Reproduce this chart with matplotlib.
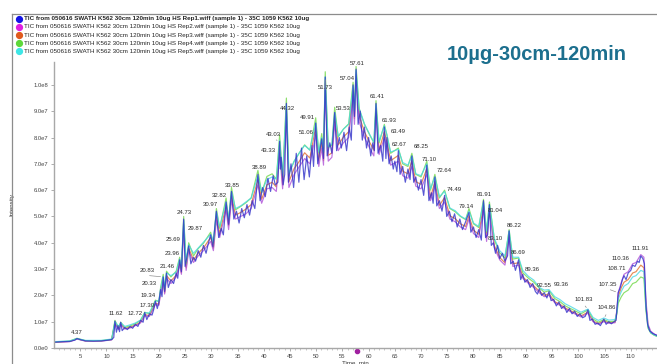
import numpy as np
import matplotlib
matplotlib.use('Agg')
import matplotlib.pyplot as plt
import matplotlib.transforms as mtransforms
from matplotlib.lines import Line2D

plt.rcParams['font.family'] = ['Liberation Sans', 'DejaVu Sans']

# Rep1 trace: retention time (min) and intensity (x 1e7)
rt_rep1 = [
    0.0, 1.5, 3.0, 4.0, 4.37, 5.0, 6.0, 7.5, 9.0, 10.0,
    11.0, 11.4, 11.62, 11.9, 12.2, 12.5, 12.72, 13.0, 13.5, 14.0,
    14.5, 15.0, 15.5, 16.0, 16.5, 17.0, 17.3, 17.7, 18.2, 18.7,
    19.0, 19.34, 19.7, 20.0, 20.33, 20.6, 20.83, 21.1, 21.46, 21.8,
    22.3, 22.8, 23.3, 23.6, 23.96, 24.3, 24.73, 25.0, 25.3, 25.69,
    26.1, 26.6, 27.0, 27.5, 28.0, 28.5, 29.0, 29.4, 29.87, 30.3,
    30.97, 31.4, 31.9, 32.3, 32.82, 33.3, 33.85, 34.3, 34.8, 35.3,
    35.8, 36.3, 36.8, 37.3, 37.8, 38.3, 38.89, 39.3, 39.8, 40.3,
    40.8, 41.3, 41.8, 42.2, 42.7, 43.03, 43.18, 43.33, 43.7, 44.0,
    44.32, 44.7, 45.2, 45.7, 46.2, 46.7, 47.2, 47.7, 48.2, 48.7,
    49.2, 49.5, 49.91, 50.3, 50.7, 51.06, 51.4, 51.73, 52.1, 52.6,
    53.0, 53.53, 53.9, 54.4, 54.8, 55.3, 55.8, 56.3, 56.7, 57.04,
    57.3, 57.61, 58.0, 58.4, 58.8, 59.2, 59.6, 60.0, 60.4, 60.8,
    61.1, 61.41, 61.8, 62.3, 62.7, 63.0, 63.3, 63.49, 63.9, 64.3,
    64.7, 65.0, 65.4, 65.67, 66.0, 66.5, 67.0, 67.5, 67.9, 68.25,
    68.6, 69.0, 69.5, 70.0, 70.5, 71.1, 71.5, 72.0, 72.3, 72.64,
    73.0, 73.5, 74.0, 74.49, 74.9, 75.4, 75.9, 76.4, 76.9, 77.4,
    77.9, 78.5, 79.14, 79.5, 80.0, 80.5, 81.0, 81.5, 81.91, 82.3,
    82.7, 83.04, 83.4, 83.8, 84.2, 84.6, 85.0, 85.5, 86.0, 86.5,
    86.8, 87.1, 87.6, 88.0, 88.6, 89.0, 89.4, 89.8, 90.3, 90.8,
    91.3, 91.8, 92.2, 92.55, 93.0, 93.5, 94.0, 94.4, 94.8, 95.3,
    95.8, 96.3, 96.8, 97.3, 97.8, 98.3, 98.8, 99.3, 99.8, 100.3,
    100.8, 101.3, 101.83, 102.2, 102.7, 103.2, 103.7, 104.2, 104.86, 105.3,
    105.8, 106.3, 106.8, 107.2, 107.6, 108.0, 108.4, 108.71, 109.1, 109.5,
    110.0, 110.36, 110.8, 111.3, 111.6, 111.91, 112.3, 112.6, 112.9, 113.2,
    113.6, 114.2, 115.0,
]
int_rep1 = [
    0.22, 0.24, 0.25, 0.30, 0.36, 0.32, 0.27, 0.26, 0.27, 0.29,
    0.32, 0.40, 1.02, 0.60, 0.85, 0.62, 0.98, 0.66, 0.78, 0.70,
    0.82, 0.75, 0.90, 0.82, 1.05, 0.98, 1.35, 1.08, 1.30, 1.25,
    1.45, 1.78, 1.50, 1.75, 2.22, 1.95, 2.70, 2.15, 2.85, 2.30,
    2.60, 2.45, 2.85, 2.65, 3.35, 2.90, 4.90, 3.10, 3.40, 3.88,
    3.20, 3.45, 3.30, 3.70, 3.45, 3.90, 3.60, 3.95, 4.30, 3.85,
    5.20, 4.20, 4.55, 4.30, 5.55, 4.70, 5.95, 4.90, 5.20, 4.75,
    5.30, 4.95, 5.45, 5.05, 5.60, 5.30, 6.60, 5.60, 6.10, 5.75,
    6.45, 5.95, 6.55, 6.20, 6.30, 7.85, 6.80, 7.25, 6.20, 6.60,
    9.30, 6.30, 7.00, 6.10, 7.40, 6.30, 7.60, 6.40, 7.30, 6.50,
    7.70, 6.90, 8.55, 7.00, 7.50, 7.95, 7.20, 10.3, 7.30, 7.80,
    7.40, 8.95, 7.50, 8.00, 7.60, 8.20, 7.50, 8.40, 7.90, 10.0,
    8.80, 10.6, 8.50, 9.00, 7.90, 8.40, 7.60, 8.00, 7.30, 7.80,
    7.50, 9.30, 7.40, 7.70, 7.10, 8.40, 7.20, 8.00, 7.00, 7.30,
    6.80, 7.10, 6.70, 7.50, 6.60, 6.90, 6.30, 6.80, 6.40, 7.30,
    6.30, 6.50, 6.00, 6.40, 5.80, 6.95, 5.60, 5.90, 5.50, 6.50,
    5.40, 5.60, 5.20, 5.80, 5.00, 5.20, 4.80, 5.10, 4.60, 4.90,
    4.50, 4.80, 5.15, 4.40, 4.60, 4.20, 4.50, 4.10, 5.60, 4.20,
    4.30, 5.45, 3.90, 4.00, 3.60, 3.90, 3.40, 3.60, 3.30, 3.50,
    4.45, 3.20, 3.30, 2.95, 3.35, 2.60, 2.80, 2.50, 2.60, 2.30,
    2.45, 2.15, 2.05, 2.25, 2.00, 2.10, 1.90, 2.15, 1.80, 1.85,
    1.60, 1.75, 1.50, 1.60, 1.35, 1.50, 1.30, 1.40, 1.20, 1.30,
    1.15, 1.20, 1.45, 1.05, 1.10, 0.90, 0.95, 0.85, 1.10, 0.90,
    1.00, 0.92, 1.00, 1.05, 2.10, 2.30, 2.60, 2.75, 2.60, 2.85,
    2.95, 3.15, 3.10, 3.30, 3.25, 3.50, 3.40, 3.20, 1.60, 0.90,
    0.65, 0.55, 0.48,
]

# Rep2..Rep5 traces, read on a coarser shared time grid (x 1e7)
rt_reps = [
    0, 3, 4.37, 6, 9, 11, 11.62, 12.3, 12.72, 13.5,
    14.5, 15.5, 16.5, 17.3, 18.2, 19.34, 20.0, 20.33, 20.83, 21.1,
    21.46, 22.3, 23.3, 23.96, 24.3, 24.73, 25.2, 25.69, 26.6, 27.5,
    28.5, 29.87, 30.4, 30.97, 31.6, 32.82, 33.3, 33.85, 34.6, 35.6,
    36.6, 37.6, 38.89, 39.6, 40.6, 41.6, 42.4, 43.03, 43.6, 44.32,
    44.8, 45.8, 46.8, 47.8, 48.8, 49.91, 50.5, 51.06, 51.4, 51.73,
    52.3, 53.0, 53.53, 54.2, 55.2, 56.2, 57.04, 57.3, 57.61, 58.2,
    59.2, 60.2, 61.0, 61.41, 62.0, 63.0, 63.49, 64.2, 65.67, 66.5,
    67.5, 68.25, 69.0, 70.0, 71.1, 71.8, 72.64, 73.5, 74.49, 75.5,
    76.5, 77.5, 78.5, 79.14, 80.0, 81.0, 81.91, 82.5, 83.04, 84.0,
    85.0, 86.0, 86.8, 87.5, 88.6, 89.4, 90.5, 91.5, 92.55, 93.5,
    94.4, 95.5, 96.5, 97.5, 98.5, 99.5, 100.5, 101.83, 102.8, 103.8,
    104.86, 105.8, 107.0, 107.35, 107.6, 108.2, 108.71, 109.5, 110.36, 111.0,
    111.91, 112.5, 112.9, 113.3, 113.8, 114.5, 115.0,
]
int_rep2 = [
    0.21, 0.24, 0.34, 0.26, 0.26, 0.31, 0.92, 0.70, 0.90, 0.72,
    0.76, 0.85, 0.95, 1.22, 1.20, 1.65, 1.62, 2.05, 2.55, 2.05,
    2.65, 2.45, 2.70, 3.15, 2.80, 4.50, 2.95, 3.70, 3.25, 3.50,
    3.70, 4.05, 3.70, 4.85, 4.20, 5.25, 4.50, 5.60, 4.90, 5.00,
    5.10, 5.30, 6.20, 5.50, 6.05, 6.10, 5.95, 7.40, 6.05, 8.80,
    6.10, 6.60, 6.90, 7.20, 7.00, 8.10, 6.90, 7.60, 6.95, 9.80,
    7.10, 7.25, 8.50, 7.50, 7.80, 8.00, 9.60, 8.50, 10.2, 8.60,
    8.00, 7.60, 7.30, 8.90, 7.35, 8.00, 7.60, 6.95, 7.10, 6.55,
    6.45, 6.90, 6.15, 6.05, 6.60, 5.60, 6.15, 5.30, 5.55, 4.90,
    4.80, 4.60, 4.50, 4.90, 4.35, 4.20, 5.25, 4.05, 5.20, 3.80,
    3.35, 3.15, 4.20, 3.10, 3.15, 2.65, 2.45, 2.30, 2.10, 1.95,
    2.00, 1.72, 1.62, 1.48, 1.38, 1.28, 1.18, 1.32, 1.00, 0.90,
    1.00, 0.94, 0.96, 1.45, 2.10, 2.50, 2.80, 2.90, 3.20, 3.25,
    3.55, 3.45, 1.80, 0.90, 0.64, 0.53, 0.48,
]
int_rep3 = [
    0.22, 0.25, 0.35, 0.27, 0.27, 0.32, 0.97, 0.73, 0.93, 0.74,
    0.79, 0.87, 0.98, 1.27, 1.23, 1.70, 1.66, 2.15, 2.62, 2.10,
    2.75, 2.55, 2.76, 3.25, 2.86, 4.70, 3.05, 3.80, 3.35, 3.60,
    3.80, 4.20, 3.80, 5.00, 4.35, 5.42, 4.65, 5.80, 5.05, 5.15,
    5.28, 5.45, 6.40, 5.65, 6.20, 6.30, 6.12, 7.70, 6.20, 9.05,
    6.32, 6.82, 7.10, 7.42, 7.22, 8.40, 7.12, 7.82, 7.12, 10.05,
    7.32, 7.42, 8.80, 7.72, 8.02, 8.22, 9.80, 8.72, 10.4, 8.82,
    8.22, 7.82, 7.52, 9.10, 7.52, 8.22, 7.82, 7.12, 7.32, 6.72,
    6.62, 7.12, 6.32, 6.22, 6.82, 5.72, 6.32, 5.42, 5.72, 5.02,
    4.92, 4.72, 4.62, 5.02, 4.48, 4.32, 5.42, 4.18, 5.32, 3.88,
    3.44, 3.24, 4.32, 3.20, 3.24, 2.70, 2.50, 2.36, 2.16, 2.00,
    2.06, 1.76, 1.66, 1.52, 1.42, 1.32, 1.22, 1.36, 1.02, 0.93,
    1.03, 0.96, 0.98, 1.40, 1.95, 2.30, 2.50, 2.60, 2.85, 2.90,
    3.15, 3.05, 1.60, 0.82, 0.60, 0.50, 0.46,
]
int_rep4 = [
    0.23, 0.26, 0.37, 0.28, 0.28, 0.33, 1.05, 0.78, 0.98, 0.78,
    0.84, 0.92, 1.05, 1.36, 1.30, 1.82, 1.76, 2.30, 2.80, 2.22,
    2.92, 2.70, 2.92, 3.45, 3.00, 5.00, 3.20, 4.00, 3.50, 3.78,
    3.98, 4.40, 3.98, 5.30, 4.55, 5.70, 4.85, 6.10, 5.25, 5.38,
    5.52, 5.70, 6.75, 5.90, 6.52, 6.62, 6.42, 8.10, 6.50, 9.50,
    6.62, 7.10, 7.42, 7.72, 7.52, 8.75, 7.42, 8.15, 7.42, 10.5,
    7.62, 7.72, 9.15, 8.02, 8.32, 8.52, 10.1, 9.05, 10.7, 9.10,
    8.50, 8.10, 7.80, 9.40, 7.80, 8.50, 8.10, 7.40, 7.60, 7.00,
    6.90, 7.40, 6.60, 6.50, 7.10, 6.00, 6.60, 5.70, 6.00, 5.30,
    5.18, 5.00, 4.88, 5.30, 4.72, 4.58, 5.65, 4.40, 5.55, 4.10,
    3.62, 3.42, 4.50, 3.38, 3.42, 2.86, 2.65, 2.50, 2.28, 2.12,
    2.18, 1.88, 1.76, 1.60, 1.50, 1.40, 1.30, 1.45, 1.10, 0.98,
    1.08, 1.00, 1.02, 1.30, 1.70, 1.95, 2.10, 2.20, 2.45, 2.50,
    2.70, 2.65, 1.40, 0.75, 0.57, 0.48, 0.44,
]
int_rep5 = [
    0.24, 0.27, 0.36, 0.29, 0.29, 0.34, 1.00, 0.82, 0.96, 0.82,
    0.88, 0.95, 1.06, 1.33, 1.34, 1.78, 1.80, 2.24, 2.72, 2.30,
    2.85, 2.75, 2.88, 3.38, 3.08, 4.85, 3.30, 3.92, 3.60, 3.80,
    4.02, 4.32, 4.05, 5.18, 4.60, 5.55, 4.90, 5.95, 5.30, 5.40,
    5.55, 5.70, 6.55, 5.92, 6.40, 6.50, 6.42, 7.90, 6.55, 9.25,
    6.65, 7.10, 7.42, 7.70, 7.52, 8.55, 7.45, 8.00, 7.45, 10.3,
    7.65, 7.75, 8.95, 8.05, 8.32, 8.50, 9.95, 9.00, 10.55, 9.10,
    8.52, 8.12, 7.82, 9.25, 7.85, 8.45, 8.10, 7.45, 7.55, 7.05,
    6.95, 7.30, 6.62, 6.55, 7.00, 6.05, 6.50, 5.75, 5.95, 5.32,
    5.22, 5.02, 4.90, 5.20, 4.75, 4.62, 5.55, 4.45, 5.45, 4.15,
    3.70, 3.50, 4.45, 3.45, 3.45, 2.95, 2.72, 2.58, 2.30, 2.20,
    2.22, 1.95, 1.84, 1.68, 1.58, 1.47, 1.36, 1.48, 1.16, 1.05,
    1.14, 1.06, 1.08, 1.35, 1.85, 2.15, 2.35, 2.45, 2.70, 2.75,
    2.95, 2.90, 1.50, 0.78, 0.58, 0.49, 0.45,
]

legend_labels = [
    'TIC from 050616 SWATH K562 30cm 120min 10ug HS Rep1.wiff (sample 1) - 35C 1059 K562 10ug',
    'TIC from 050616 SWATH K562 30cm 120min 10ug HS Rep2.wiff (sample 1) - 35C 1059 K562 10ug',
    'TIC from 050616 SWATH K562 30cm 120min 10ug HS Rep3.wiff (sample 1) - 35C 1059 K562 10ug',
    'TIC from 050616 SWATH K562 30cm 120min 10ug HS Rep4.wiff (sample 1) - 35C 1059 K562 10ug',
    'TIC from 050616 SWATH K562 30cm 120min 10ug HS Rep5.wiff (sample 1) - 35C 1059 K562 10ug',
]
line_colors = ['#3030c8', '#b050d8', '#e0702c', '#70d848', '#48d8e4']
dot_colors = ['#1414e6', '#e020e0', '#e05a1e', '#5ed83a', '#3ee6e6']

# peak labels (text) and where they sit, in (min, x 1e7)
peak_labels = ['4.37', '11.62', '12.72', '17.30', '19.34', '20.33', '20.83', '21.46',
               '23.96', '25.69', '24.73', '29.87', '30.97', '32.82', '33.85', '38.89',
               '43.33', '43.03', '44.32', '49.91', '51.06', '51.73', '53.53', '57.04',
               '57.61', '61.41', '61.93', '63.49', '62.67', '68.25', '71.10', '72.64',
               '74.49', '79.14', '81.91', '81.04', '83.10', '86.22', '86.69', '89.36',
               '92.55', '93.36', '101.83', '104.86', '107.35', '108.71', '110.36', '111.91']
label_rt = [4.3, 11.8, 15.5, 17.7, 18.0, 18.2, 17.7, 21.5,
            22.5, 22.8, 24.8, 26.9, 29.8, 31.5, 34.0, 39.1,
            40.9, 41.9, 44.5, 48.3, 48.2, 51.7, 55.1, 55.9,
            57.8, 61.6, 64.0, 65.6, 65.9, 70.0, 71.6, 74.4,
            76.3, 78.6, 82.1, 84.2, 84.2, 87.7, 88.6, 91.2,
            93.4, 96.8, 101.0, 105.5, 105.6, 107.3, 108.0, 111.8]
label_int = [0.58, 1.30, 1.30, 1.60, 2.00, 2.45, 2.94, 3.10,
             3.58, 4.12, 5.16, 4.53, 5.46, 5.80, 6.18, 6.86,
             7.52, 8.13, 9.11, 8.77, 8.18, 9.90, 9.11, 10.26,
             10.83, 9.55, 8.64, 8.24, 7.74, 7.65, 7.16, 6.73,
             6.02, 5.38, 5.84, 5.23, 4.15, 4.66, 3.64, 2.97,
             2.37, 2.43, 1.86, 1.54, 2.43, 3.04, 3.41, 3.79]
# labels joined to their peak by a thin leader line: (label, peak time)
leaders = [('20.83', 20.83), ('43.03', 43.03), ('101.83', 101.83),
           ('104.86', 104.86), ('107.35', 107.6), ('51.73', 51.73)]

marker_rt = 57.8

scale = 1e7


def sci_fmt(v, pos):
    if v == 0:
        return '0.0e0'
    e = int(np.floor(np.log10(abs(v))))
    return f'{v / 10 ** e:.1f}e{e}'


W, H = 657, 364
fig = plt.figure(figsize=(W / 100, H / 100), dpi=100)
ax = fig.add_axes([54 / W, (H - 348) / H, (W - 54) / W, (348 - 62) / H])

traces = [
    (rt_reps, int_rep3, line_colors[2]),
    (rt_reps, int_rep2, line_colors[1]),
    (rt_reps, int_rep4, line_colors[3]),
    (rt_reps, int_rep5, line_colors[4]),
    (rt_rep1, int_rep1, line_colors[0]),
]
for rt, inten, c in traces:
    ax.plot(rt, np.array(inten) * scale, color=c, lw=0.85, alpha=0.8)

for txt, x, y in zip(peak_labels, label_rt, label_int):
    ax.text(x, y * scale, txt, fontsize=4.3, color='#2a2a2a', ha='center', va='center')

for txt, prt in leaders:
    i = peak_labels.index(txt)
    py = np.interp(prt, rt_rep1, int_rep1)
    ax.annotate('', xy=(prt, py * scale), xytext=(label_rt[i], (label_int[i] - 0.18) * scale),
                arrowprops=dict(arrowstyle='-', color='#909090', lw=0.5))

ax.set_xlim(0, 115)
ax.set_ylim(0, 1.087e8)
ax.set_xticks(np.arange(5, 111, 5))
ax.set_xticks(np.arange(1, 115, 1), minor=True)
ax.set_yticks(np.arange(0, 1.01e8, 1e7))
ax.yaxis.set_major_formatter(plt.FuncFormatter(sci_fmt))
ax.tick_params(axis='both', labelsize=4.2, colors='#a0a0a0', labelcolor='#444444',
               length=2, width=0.6, pad=2)
ax.tick_params(axis='x', which='minor', length=1.2, width=0.5, colors='#b0b0b0')
for s in ['top', 'right']:
    ax.spines[s].set_visible(False)
for s in ['left', 'bottom']:
    ax.spines[s].set_color('#a8a8a8')
    ax.spines[s].set_linewidth(1.0)

ax.set_xlabel('Time, min', fontsize=4.4, color='#333333', labelpad=1)
ax.set_ylabel('Intensity', fontsize=4.4, color='#333333', labelpad=14)

# small marker under the time axis
tr = mtransforms.blended_transform_factory(ax.transData, ax.transAxes)
ax.plot([marker_rt], [-0.012], marker='o', ms=3, color='#a020a0', transform=tr, clip_on=False)

# panel frame lines
fig.add_artist(Line2D([12 / W, 12 / W], [0, 1 - 14 / H], transform=fig.transFigure,
                      color='#8c8c8c', lw=0.9))
fig.add_artist(Line2D([12 / W, 1], [1 - 14 / H, 1 - 14 / H], transform=fig.transFigure,
                      color='#8c8c8c', lw=0.9))

# legend rows
for i, (lab, dc) in enumerate(zip(legend_labels, dot_colors)):
    yy = 1 - (18.8 + 8.1 * i) / H
    fig.add_artist(Line2D([19 / W], [yy], marker='o', ms=4.2, color=dc,
                          transform=fig.transFigure))
    fig.text(23.5 / W, yy, lab, fontsize=4.5, color='#222222', va='center', ha='left',
             fontweight='bold' if i == 0 else 'normal')

fig.text(537 / W, 1 - 55 / H, '10µg-30cm-120min', fontsize=14.5, fontweight='bold',
         color='#1c6f8e', ha='center', va='center')

fig.savefig('out.png', dpi=100)
